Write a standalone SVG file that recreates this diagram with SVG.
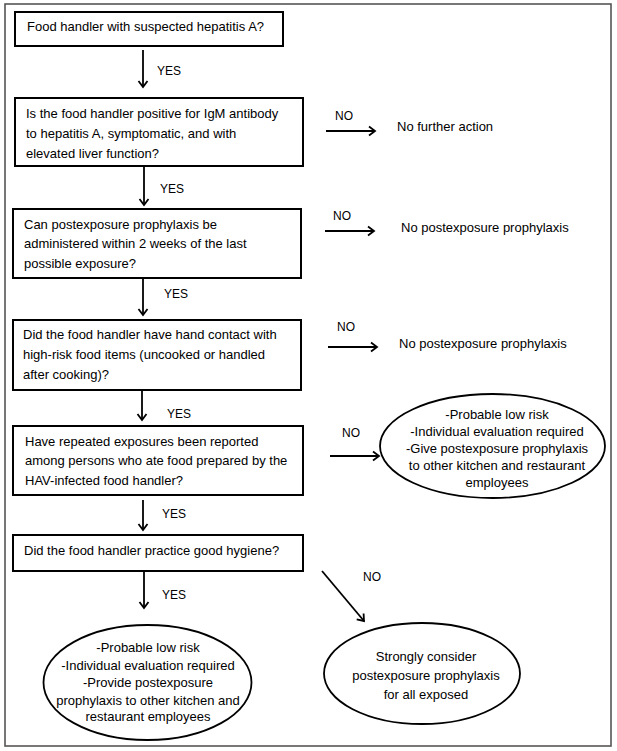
<svg xmlns="http://www.w3.org/2000/svg" width="617" height="751" viewBox="0 0 617 751">
<style>
  .box { fill: #fff; stroke: #000; stroke-width: 2; }
  .ell { fill: #fff; stroke: #000; stroke-width: 1.8; }
  .t { font-family: "Liberation Sans", Arial, sans-serif; font-size: 13px; fill: #000; }
  .c { text-anchor: middle; }
  .lbl { font-family: "Liberation Sans", Arial, sans-serif; font-size: 12px; fill: #000; }
  .conn { stroke: #000; stroke-width: 1.8; fill: none; marker-end: url(#arr); }
</style>
<defs>
  <marker id="arr" markerUnits="userSpaceOnUse" markerWidth="12" markerHeight="12" refX="8" refY="6" orient="auto">
    <path d="M2,1.5 L8,6 L2,10.5" fill="none" stroke="#000" stroke-width="1.8"/>
  </marker>
</defs>
<rect width="617" height="751" fill="#fff"/>
<rect id="frame" x="5" y="4" width="606" height="742" fill="none" stroke="#555" stroke-width="1.6"/>

<g id="connectors">
  <line class="conn" x1="143" y1="50" x2="143" y2="87"/>
  <line class="conn" x1="144" y1="166" x2="144" y2="205"/>
  <line class="conn" x1="143" y1="278" x2="143" y2="315"/>
  <line class="conn" x1="142" y1="390" x2="142" y2="420"/>
  <line class="conn" x1="143" y1="500" x2="143" y2="530"/>
  <line class="conn" x1="144" y1="571" x2="144" y2="608"/>
  <line class="conn" x1="326" y1="131" x2="375" y2="131"/>
  <line class="conn" x1="325" y1="231" x2="374" y2="231"/>
  <line class="conn" x1="328" y1="347" x2="377" y2="347"/>
  <line class="conn" x1="330" y1="456" x2="379" y2="456"/>
  <line class="conn" x1="322" y1="571" x2="364" y2="621"/>
  <text class="lbl" x="157" y="74.5">YES</text>
  <text class="lbl" x="160" y="192.5">YES</text>
  <text class="lbl" x="164" y="297.5">YES</text>
  <text class="lbl" x="167" y="417.5">YES</text>
  <text class="lbl" x="162" y="517.5">YES</text>
  <text class="lbl" x="162" y="598.5">YES</text>
  <text class="lbl" x="335" y="119.5">NO</text>
  <text class="lbl" x="333" y="219.5">NO</text>
  <text class="lbl" x="337" y="330.5">NO</text>
  <text class="lbl" x="342" y="436.5">NO</text>
  <text class="lbl" x="363" y="581">NO</text>
</g>

<g id="n1">
  <rect class="box" x="15" y="12" width="268" height="34"/>
  <text class="t" x="27" y="31">Food handler with suspected hepatitis A?</text>
</g>
<g id="n2">
  <rect class="box" x="15" y="98" width="288" height="68"/>
  <text class="t" x="26" y="118">Is the food handler positive for IgM antibody</text>
  <text class="t" x="26" y="138">to hepatitis A, symptomatic, and with</text>
  <text class="t" x="26" y="158">elevated liver function?</text>
</g>
<g id="n3">
  <rect class="box" x="13" y="209" width="288" height="69"/>
  <text class="t" x="24" y="229">Can postexposure prophylaxis be</text>
  <text class="t" x="24" y="248">administered within 2 weeks of the last</text>
  <text class="t" x="24" y="268">possible exposure?</text>
</g>
<g id="n4">
  <rect class="box" x="13" y="320" width="288" height="70"/>
  <text class="t" x="23" y="339">Did the food handler have hand contact with</text>
  <text class="t" x="23" y="359">high-risk food items (uncooked or handled</text>
  <text class="t" x="23" y="379">after cooking)?</text>
</g>
<g id="n5">
  <rect class="box" x="13" y="426" width="290" height="69"/>
  <text class="t" x="25" y="446">Have repeated exposures been reported</text>
  <text class="t" x="25" y="465">among persons who ate food prepared by the</text>
  <text class="t" x="25" y="485">HAV-infected food handler?</text>
</g>
<g id="n6">
  <rect class="box" x="13" y="535" width="290" height="36"/>
  <text class="t" x="24" y="555">Did the food handler practice good hygiene?</text>
</g>
<g id="r1">
  <text class="t" x="397" y="131">No further action</text>
</g>
<g id="r2">
  <text class="t" x="401" y="232">No postexposure prophylaxis</text>
</g>
<g id="r3">
  <text class="t" x="399" y="348">No postexposure prophylaxis</text>
</g>
<g id="r4">
  <ellipse class="ell" cx="492.5" cy="446" rx="112.5" ry="52"/>
  <text class="t c" x="497" y="419">-Probable low risk</text>
  <text class="t c" x="497" y="436">-Individual evaluation required</text>
  <text class="t c" x="497" y="453">-Give postexposure prophylaxis</text>
  <text class="t c" x="497" y="470">to other kitchen and restaurant</text>
  <text class="t c" x="497" y="487">employees</text>
</g>
<g id="r5">
  <ellipse class="ell" cx="147.5" cy="682.5" rx="104" ry="57.5"/>
  <text class="t c" x="148" y="652">-Probable low risk</text>
  <text class="t c" x="148" y="670">-Individual evaluation required</text>
  <text class="t c" x="148" y="687">-Provide postexposure</text>
  <text class="t c" x="148" y="705">prophylaxis to other kitchen and</text>
  <text class="t c" x="148" y="721">restaurant employees</text>
</g>
<g id="r6">
  <ellipse class="ell" cx="422" cy="673.5" rx="98" ry="50.5"/>
  <text class="t c" x="426" y="661">Strongly consider</text>
  <text class="t c" x="426" y="680">postexposure prophylaxis</text>
  <text class="t c" x="426" y="699">for all exposed</text>
</g>
</svg>
